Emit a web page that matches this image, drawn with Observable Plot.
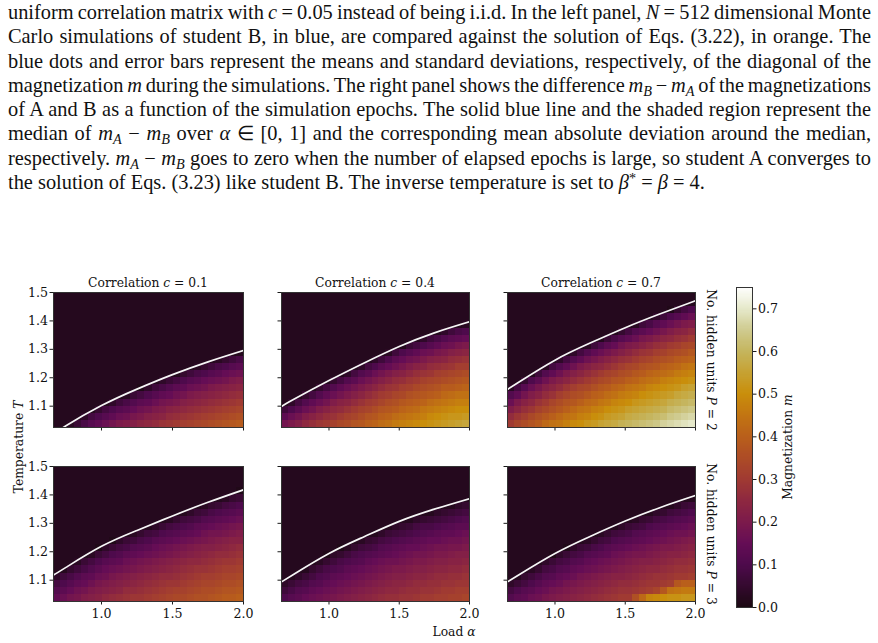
<!DOCTYPE html>
<html>
<head>
<meta charset="utf-8">
<script src="https://cdn.jsdelivr.net/npm/d3@7"></script>
<script src="https://cdn.jsdelivr.net/npm/@observablehq/plot@0.6"></script>
<style>
  body { margin: 0; background: #fff; }
  #page { position: relative; width: 878px; height: 643px; overflow: hidden; background: #fff; }
  #text { position: absolute; left: 8px; top: 0px; width: 864px; font-family: "Liberation Serif", "Times New Roman", serif;
          font-size: 20px; line-height: 24.3px; color: #111; }
  #text .ln { white-space: nowrap; height: 24.3px; }
  #text sub, #text sup { font-size: 0.7em; line-height: 0; position: relative; vertical-align: baseline; }
  #text sub { top: 0.28em; }
  #text sup { top: -0.45em; }
  .lbl { position: absolute; font-family: "DejaVu Serif", serif; font-size: 12.3px; color: #111; white-space: nowrap; line-height: 1; }
  .panel { position: absolute; }
  svg.panel, svg.panel g, svg.panel text { font-family: "DejaVu Serif", serif !important; font-size: 12.6px !important; }
  svg.panel text { fill: #111; }
</style>
</head>
<body>
<div id="page">
  <div id="text">
    <div class="ln"><span>uniform correlation matrix with <i>c</i> = 0.05 instead of being i.i.d. In the left panel, <i>N</i> = 512 dimensional Monte</span></div>
    <div class="ln"><span>Carlo simulations of student B, in blue, are compared against the solution of Eqs. (3.22), in orange. The</span></div>
    <div class="ln"><span>blue dots and error bars represent the means and standard deviations, respectively, of the diagonal of the</span></div>
    <div class="ln"><span>magnetization <i>m</i> during the simulations. The right panel shows the difference <i>m</i><sub><i>B</i></sub> − <i>m</i><sub><i>A</i></sub> of the magnetizations</span></div>
    <div class="ln"><span>of A and B as a function of the simulation epochs. The solid blue line and the shaded region represent the</span></div>
    <div class="ln"><span>median of <i>m</i><sub><i>A</i></sub> − <i>m</i><sub><i>B</i></sub> over <i>α</i> ∈ [0, 1] and the corresponding mean absolute deviation around the median,</span></div>
    <div class="ln"><span>respectively. <i>m</i><sub><i>A</i></sub> − <i>m</i><sub><i>B</i></sub> goes to zero when the number of elapsed epochs is large, so student A converges to</span></div>
    <div class="ln"><span>the solution of Eqs. (3.23) like student B. The inverse temperature is set to <i>β</i><sup>*</sup> = <i>β</i> = 4.</span></div>
  </div>
  <div id="fig"></div>
</div>
<script>
// ---- grid of the phase diagrams ----
const alphaEdges = [0.662, 0.7116, 0.7611, 0.8107, 0.8602, 0.9098, 0.9593, 1.0089, 1.0584, 1.1080, 1.1576, 1.2071,
  1.2567, 1.3062, 1.3558, 1.4053, 1.4549, 1.5044, 1.5540, 1.6036, 1.6531, 1.7027, 1.7522, 1.8018, 1.8513, 1.9009, 1.9504, 2.0];
const tempEdges = [1.025, 1.05, 1.075, 1.1, 1.125, 1.15, 1.175, 1.2, 1.225, 1.25, 1.275, 1.3, 1.325, 1.35, 1.375,
  1.4, 1.425, 1.45, 1.475, 1.5];
const correlations = [0.1, 0.4, 0.7];
const hiddenUnits = [2, 3];

const xTicks = [1.0, 1.5, 2.0];
const yTicks = [1.1, 1.2, 1.3, 1.4, 1.5];
const cbarTicks = [0, 0.1, 0.2, 0.3, 0.4, 0.5, 0.6, 0.7];

// ---- critical temperature lines T_c(alpha) ----
const lineAlpha = [0.662, 0.75, 1.0, 1.25, 1.5, 1.75, 2.0];
const tcP2c01 = [1.000, 1.031, 1.102, 1.160, 1.211, 1.256, 1.296];
const tcP2c04 = [1.099, 1.124, 1.190, 1.252, 1.310, 1.358, 1.397];
const tcP2c07 = [1.159, 1.187, 1.262, 1.322, 1.376, 1.425, 1.471];
const tcP3c01 = [1.118, 1.145, 1.219, 1.275, 1.326, 1.374, 1.418];
const tcP3c04 = [1.094, 1.121, 1.194, 1.253, 1.307, 1.350, 1.387];
const tcP3c07 = [1.094, 1.121, 1.194, 1.254, 1.308, 1.356, 1.398];

// ---- magnetization m (in hundredths), one list per alpha column,
//      from the lowest temperature upward; cells not listed are in the paramagnetic phase ----
const magBackground = 2;
const magP2c01 = [
  [], [], [3], [6], [9,4], [12,8], [14,10,5], [16,12,8], [18,14,10,4], [20,16,12,7],
  [21,17,13,9,3], [22,19,15,11,6], [24,20,17,13,8,1], [25,22,18,14,10,4], [26,23,20,16,12,7],
  [28,24,21,18,14,9,4], [29,26,23,19,15,11,6], [30,27,24,20,17,13,8,2], [31,28,25,22,18,14,10,5],
  [32,29,26,23,20,16,12,7], [33,30,27,24,21,17,13,9,3], [34,31,28,25,22,18,15,10,5],
  [35,32,29,26,23,20,16,12,7], [36,33,30,27,24,21,17,13,9,3], [37,34,31,28,25,22,18,15,10,5],
  [38,35,32,29,26,23,20,16,12,7], [39,36,33,30,27,24,21,17,13,9,2]
];
const magP2c04 = [
  [18,13,7], [20,16,10,4], [22,18,13,8], [25,21,16,11,5], [27,23,18,14,8], [29,25,21,16,11,5],
  [30,27,23,18,14,8], [32,28,25,21,16,11,5], [34,30,26,23,18,14,8], [35,32,28,24,20,16,11,4],
  [37,33,30,26,22,18,13,8], [38,35,32,28,24,20,16,11,4], [40,37,33,30,26,22,18,13,8],
  [41,38,35,31,28,24,20,16,10,4], [43,40,37,33,30,26,22,18,13,7], [44,41,38,35,31,28,24,20,15,10,3],
  [46,43,39,36,33,29,26,22,17,13,7], [47,44,41,38,34,31,27,23,19,15,10,2],
  [48,45,42,39,36,32,29,25,21,17,12,6], [49,46,43,40,37,34,30,27,23,18,14,8],
  [50,47,45,41,38,35,32,28,24,20,16,10,4], [51,49,46,43,39,36,33,29,26,22,17,12,7],
  [52,50,47,44,40,37,34,31,27,23,19,14,9], [53,51,48,45,42,39,35,32,28,24,20,16,11,4],
  [54,52,49,46,43,39,36,33,29,26,22,17,13,7], [55,52,50,47,44,40,37,34,31,27,23,19,14,9],
  [56,53,50,47,44,41,38,35,31,28,24,20,15,10,3]
];
const magP2c07 = [
  [30,26,21,16,11,3], [33,29,24,20,14,8], [35,31,27,23,18,12,5], [37,34,29,25,21,16,10],
  [39,36,32,28,23,19,13,7], [42,38,34,30,26,22,17,11,3], [44,40,36,33,28,24,20,14,8],
  [45,42,38,35,31,26,22,17,11,4], [47,44,40,37,33,29,24,20,14,8], [49,45,42,38,35,31,26,22,17,11,4],
  [50,47,44,40,36,33,28,24,20,14,8], [52,48,45,42,38,34,30,26,22,17,11,3],
  [53,50,47,43,40,36,32,28,24,19,14,7], [55,51,48,45,41,38,34,30,25,21,16,10,2],
  [56,53,50,46,43,39,35,32,27,23,18,13,6], [57,54,51,48,44,41,37,33,29,25,20,15,9],
  [59,55,52,49,46,42,38,35,31,27,22,18,12,5], [60,57,54,50,47,44,40,36,33,28,24,20,14,8],
  [61,58,55,52,48,45,41,38,34,30,26,21,16,11,3], [62,59,56,53,50,46,43,39,36,32,28,23,19,13,7],
  [63,60,57,54,51,48,44,41,37,33,29,25,20,15,9], [64,61,58,55,52,49,45,42,38,35,31,27,22,17,12,4],
  [66,62,59,56,53,50,47,43,40,36,32,28,24,19,14,7], [67,64,61,58,54,51,48,44,41,37,34,30,25,21,16,10,1],
  [68,65,62,59,56,52,49,46,42,39,35,31,27,23,18,12,5], [69,66,63,60,57,54,50,47,44,40,36,33,28,24,20,14,8],
  [70,67,64,61,58,55,51,48,45,41,38,34,30,26,21,16,10,2]
];
const magP3c01 = [
  [14,11,8,4], [16,13,10,7,2], [18,15,12,9,5], [19,17,14,11,7,3], [21,18,15,13,9,6],
  [22,20,17,14,11,8,3], [23,21,19,16,13,10,6,1], [25,22,20,17,15,12,8,4], [26,23,21,19,16,13,10,6,1],
  [27,24,22,20,17,14,11,8,4], [28,26,23,21,18,16,13,9,6], [29,26,24,22,19,17,14,11,7,3],
  [29,27,25,23,20,18,15,12,9,5], [30,28,26,24,21,19,16,13,10,7,2], [31,29,27,25,22,20,17,15,12,8,4],
  [32,30,28,26,23,21,18,16,13,10,6], [33,31,29,26,24,22,19,17,14,11,8,3],
  [34,32,29,27,25,23,20,18,15,12,9,5], [34,32,30,28,26,24,21,19,16,13,10,7,2],
  [35,33,31,29,27,25,22,20,17,14,11,8,4], [36,34,32,30,28,25,23,21,18,15,13,9,6],
  [36,35,33,31,28,26,24,22,19,17,14,11,7,3], [37,35,33,31,29,27,25,22,20,18,15,12,9,5],
  [38,36,34,32,30,28,26,23,21,18,16,13,10,6], [39,37,35,33,31,29,26,24,22,19,17,14,11,8,3],
  [39,37,35,33,31,29,27,25,23,20,18,15,12,9,5], [40,38,36,34,32,30,28,26,23,21,19,16,13,10,6,1]
];
const magP3c04 = [
  [10,7,4], [12,9,6,2], [13,11,8,4], [15,12,9,6,2], [16,14,11,8,5], [17,15,12,10,7,3],
  [18,16,14,11,9,5,1], [19,17,15,13,10,7,4], [20,18,16,14,11,9,5,1], [21,19,17,15,13,10,7,3],
  [22,20,18,16,14,11,9,5], [23,21,19,17,15,12,10,7,3], [24,22,20,18,16,14,11,8,5],
  [25,23,21,19,17,15,12,9,6,2], [26,24,22,20,18,16,13,11,8,4], [27,25,23,21,19,17,14,12,9,6,2],
  [27,25,24,22,20,17,15,13,10,7,4], [28,26,24,22,20,18,16,14,11,8,5], [28,27,25,23,21,19,17,15,12,9,6,2],
  [29,27,26,24,22,20,18,15,13,10,8,4], [30,28,26,24,22,20,18,16,14,11,9,5],
  [30,28,27,25,23,21,19,17,15,12,9,6,2], [31,29,27,26,24,22,20,18,15,13,10,7,4],
  [31,30,28,26,24,22,20,18,16,14,11,8,5], [32,30,28,27,25,23,21,19,17,14,12,9,6,2],
  [32,31,29,27,25,23,22,19,17,15,13,10,7,4], [33,31,29,28,26,24,22,20,18,16,13,11,8,5]
];
const magP3c07 = [
  [11,8,4], [13,10,6,2], [14,12,8,5], [16,13,10,7,3], [17,15,12,9,5], [19,16,14,11,8,4],
  [20,18,15,12,9,6,1], [21,19,16,14,11,8,4], [22,20,18,15,12,9,6,1], [23,21,19,16,14,11,8,4],
  [24,22,20,18,15,12,9,6], [25,23,21,19,16,14,11,7,3], [26,24,22,20,17,15,12,9,5],
  [27,25,23,21,18,16,13,10,7,3], [28,26,24,22,19,17,14,12,8,5], [29,27,25,23,20,18,16,13,10,7,2],
  [30,28,26,23,21,19,17,14,11,8,4], [30,28,26,24,22,20,18,15,12,9,6],
  [36,29,27,25,23,21,19,16,13,11,7,3], [42,30,28,26,24,22,19,17,14,12,8,5],
  [48,31,29,27,25,22,20,18,15,13,10,6,2], [49,33,29,28,25,23,21,19,16,14,11,8,4],
  [50,38,30,28,26,24,22,20,17,15,12,9,5], [51,44,31,29,27,25,23,20,18,16,13,10,7,2],
  [51,45,38,30,28,26,23,21,19,17,14,11,8,4], [52,46,40,30,28,26,24,22,20,17,15,12,9,6],
  [52,46,40,31,29,27,25,23,21,18,16,13,10,7,2]
];

// ---- colour map for the magnetization ----
const cmapStops  = [0, 0.1, 0.15, 0.2, 0.25, 0.3, 0.35, 0.4, 0.45, 0.5, 0.55, 0.6, 0.65, 0.7, 0.75];
const cmapColors = ["#1b0912", "#4e0a4c", "#650d55", "#7c1a4b", "#8e2840", "#a03a32", "#ad4c26", "#b95f1b",
                    "#c27512", "#c98e0b", "#c6a233", "#c5b55e", "#cfcb90", "#e6e9cb", "#ffffff"];

// ---- layout ----
const panelLeft = [53, 281, 507], panelWidth = [190, 188, 188];
const panelTop = [292, 466], panelHeight = [135, 135];
const M = {left: 45, right: 6, top: 6, bottom: 26};

const magGrids = {"2-0.1": magP2c01, "2-0.4": magP2c04, "2-0.7": magP2c07,
                  "3-0.1": magP3c01, "3-0.4": magP3c04, "3-0.7": magP3c07};
const tcLines  = {"2-0.1": tcP2c01, "2-0.4": tcP2c04, "2-0.7": tcP2c07,
                  "3-0.1": tcP3c01, "3-0.4": tcP3c04, "3-0.7": tcP3c07};

const colorScale = {type: "linear", domain: cmapStops, range: cmapColors, interpolate: "rgb", clamp: true};
const fig = document.getElementById("fig");

function cellsOf(grid) {
  const cells = [];
  for (let i = 0; i < alphaEdges.length - 1; ++i) {
    for (let j = 0; j < tempEdges.length - 1; ++j) {
      const v = grid[i][j] !== undefined ? grid[i][j] : magBackground;
      cells.push({a1: alphaEdges[i], a2: alphaEdges[i + 1], t1: tempEdges[j], t2: tempEdges[j + 1], m: v / 100});
    }
  }
  return cells;
}

hiddenUnits.forEach((P, r) => {
  correlations.forEach((c, k) => {
    const key = `${P}-${c}`;
    const line = lineAlpha.map((a, i) => ({alpha: a, T: tcLines[key][i]}));
    const chart = Plot.plot({
      width: panelWidth[k] + M.left + M.right,
      height: panelHeight[r] + M.top + M.bottom,
      marginLeft: M.left, marginRight: M.right, marginTop: M.top, marginBottom: M.bottom,
      style: {fontFamily: "DejaVu Serif, serif", fontSize: "12.6px", color: "#1a1a1a", background: "transparent", overflow: "visible"},
      x: {domain: [alphaEdges[0], alphaEdges[alphaEdges.length - 1]], ticks: xTicks, tickSize: 3.5, tickPadding: 4.5,
          tickFormat: r === 1 ? d3.format(".1f") : () => "", label: null},
      y: {domain: [tempEdges[0], tempEdges[tempEdges.length - 1]], ticks: yTicks, tickSize: 3.5, tickPadding: 2,
          tickFormat: k === 0 ? d3.format(".1f") : () => "", label: null},
      color: colorScale,
      marks: [
        Plot.rect(cellsOf(magGrids[key]), {x1: "a1", x2: "a2", y1: "t1", y2: "t2", fill: "m", shapeRendering: "crispEdges"}),
        Plot.line(line, {x: "alpha", y: "T", stroke: "#f6f6f6", strokeWidth: 1.7, curve: "natural", clip: true}),
        Plot.frame({stroke: "#333", strokeWidth: 1})
      ]
    });
    chart.classList.add("panel");
    chart.style.left = (panelLeft[k] - M.left) + "px";
    chart.style.top = (panelTop[r] - M.top) + "px";
    fig.appendChild(chart);
  });
});

// ---- colour bar ----
const cbar = {left: 736, top: 287, width: 16, height: 320};
const cbarDomain = [0, 0.75];
const cbarStrip = d3.range(0, 0.75, 0.0025).map(v => ({v0: v, v1: Math.min(v + 0.0025, 0.75), m: v + 0.00125}));
const cbarChart = Plot.plot({
  width: cbar.width + 2 + 40, height: cbar.height + 6,
  marginLeft: 2, marginRight: 40, marginTop: 3, marginBottom: 3,
  style: {fontFamily: "DejaVu Serif, serif", fontSize: "12.6px", color: "#1a1a1a", background: "transparent", overflow: "visible"},
  x: {domain: [0, 1], axis: null},
  y: {domain: cbarDomain, axis: "right", ticks: cbarTicks, tickSize: 3.5, tickPadding: 2, tickFormat: d3.format(".1f"), label: null},
  color: colorScale,
  marks: [
    Plot.rect(cbarStrip, {x1: 0, x2: 1, y1: "v0", y2: "v1", fill: "m", shapeRendering: "crispEdges"}),
    Plot.frame({stroke: "#333", strokeWidth: 1})
  ]
});
cbarChart.classList.add("panel");
cbarChart.style.left = (cbar.left - 2) + "px";
cbarChart.style.top = (cbar.top - 3) + "px";
fig.appendChild(cbarChart);

// ---- text labels around the grid ----
function label(html, x, y, rotate) {
  const d = document.createElement("div");
  d.className = "lbl";
  d.innerHTML = html;
  d.style.left = x + "px";
  d.style.top = y + "px";
  d.style.transform = `translate(-50%, -50%)` + (rotate ? ` rotate(${rotate}deg)` : "");
  fig.appendChild(d);
}
correlations.forEach((c, k) => {
  label(`Correlation <i>c</i> = ${c}`, panelLeft[k] + panelWidth[k] / 2, 282.5);
});
hiddenUnits.forEach((P, r) => {
  label(`No. hidden units <i>P</i> = ${P}`, 711, panelTop[r] + panelHeight[r] / 2, 90);
});
label(`Temperature <i>T</i>`, 19, 447, -90);
label(`Load <i>α</i>`, 454, 632);
label(`Magnetization <i>m</i>`, 788, 447, -90);

// ---- justify the paragraph lines to the text block width ----
const lines = Array.from(document.querySelectorAll("#text .ln span"));
const lastSpan = lines[lines.length - 1];
const lastTarget = 697;
const baseSize = 20;
const fitted = baseSize * lastTarget / lastSpan.getBoundingClientRect().width;
document.getElementById("text").style.fontSize = fitted + "px";
const blockWidth = 863;
lines.slice(0, -1).forEach(s => {
  const w = s.getBoundingClientRect().width;
  const n = (s.textContent.match(/ /g) || []).length;
  s.style.wordSpacing = ((blockWidth - w) / n) + "px";
});
</script>
</body>
</html>
